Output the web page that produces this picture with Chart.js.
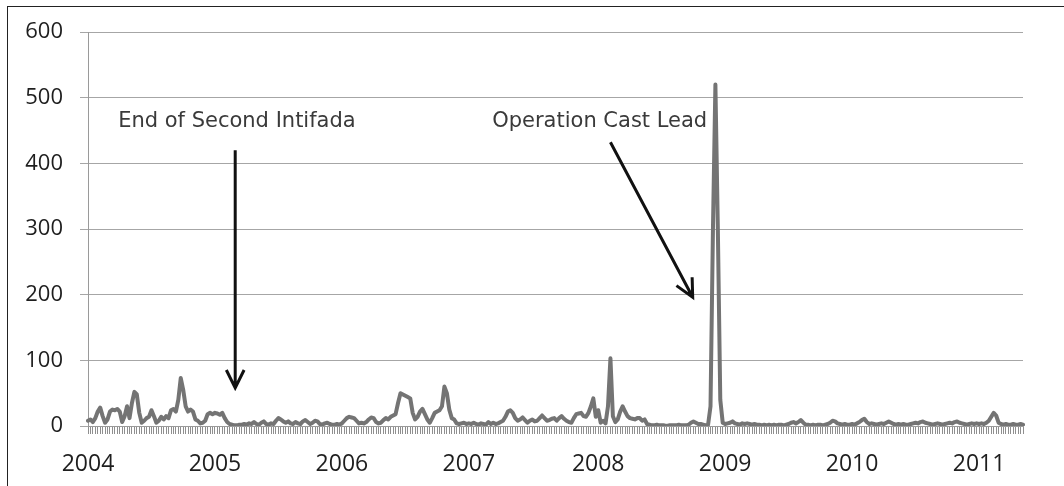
<!DOCTYPE html>
<html>
<head>
<meta charset="utf-8">
<script src="https://cdn.jsdelivr.net/npm/chart.js@4.4.1/dist/chart.umd.min.js"></script>
<style>
  html, body { margin: 0; padding: 0; background: #fff; overflow: hidden; }
  #frame { position: absolute; left: 7px; top: 6px; width: 1100px; height: 520px; border: 1px solid #222; }
  #chart { position: absolute; left: 0; top: 0; }
</style>
</head>
<body>
<div id="frame"></div>
<canvas id="chart" width="1064" height="486"></canvas>
<script>
Chart.defaults.devicePixelRatio = 1;
Chart.defaults.responsive = false;
Chart.defaults.maintainAspectRatio = false;

// weekly counts, one array per year
const yearLabels = ["2004", "2005", "2006", "2007", "2008", "2009", "2010", "2011"];
const weeks2004 = [8,10,6,12,22,28,15,5,10,22,25,24,26,22,6,15,30,12,35,52,48,20,5,8,12,14,24,15,5,8,14,10,15,12,24,26,22,40,73,55,30,22,25,22,10,8,4,5,8,18,20,18];
const weeks2005 = [20,19,17,20,12,6,3,2,1,1,2,2,3,2,4,3,6,3,2,5,7,3,2,4,3,8,12,10,7,5,7,4,3,6,4,3,7,9,6,3,5,8,7,3,2,4,5,3,2,2,3,2];
const weeks2006 = [4,8,12,14,13,12,8,4,5,4,6,10,13,12,6,4,5,9,12,10,14,16,18,35,50,48,46,44,42,20,10,14,22,26,18,10,5,12,20,22,24,30,60,50,25,12,10,4,3,4,5,3];
const weeks2007 = [4,3,5,3,2,4,3,2,6,3,5,3,4,6,8,14,22,24,20,12,8,10,13,9,5,8,10,7,8,12,16,12,8,9,11,12,8,12,15,11,8,6,5,12,18,19,20,15,14,20,30,42,14];
const weeks2008 = [24,5,8,4,30,103,15,6,10,22,30,22,15,12,11,10,12,12,8,10,3,2,1,1,2,1,1,1,0,1,1,1,1,2,1,1,1,2,5,7,5,3,3,2,1,2,30,300,520,300,40,5];
const weeks2009 = [3,4,5,7,4,3,2,4,3,4,3,2,3,2,2,1,2,1,2,1,2,1,2,2,1,2,3,5,6,4,6,9,5,2,2,1,2,1,2,2,1,2,3,5,8,7,4,3,2,3,2,2];
const weeks2010 = [3,2,4,6,9,11,6,3,4,3,2,3,4,3,5,7,5,3,2,3,2,3,2,2,3,4,5,4,6,7,5,4,3,2,3,4,3,2,3,4,5,4,6,7,5,4,3,2,3,4,3,4];
const weeks2011 = [3,4,3,5,8,14,20,16,5,3,2,3,2,2,3,2,2,3,2];

const yTicks = [0, 100, 200, 300, 400, 500, 600];

// annotations: [week index, value]
const notes = [
  { text: "End of Second Intifada", textAt: [61, 463], from: [60.3, 420], to: [60.3, 58] },
  { text: "Operation Cast Lead", textAt: [209.6, 463], from: [214, 432], to: [247.7, 196] },
];

const byYear = [weeks2004, weeks2005, weeks2006, weeks2007, weeks2008, weeks2009, weeks2010, weeks2011];
const labels = [];
const values = [];
byYear.forEach((arr, yi) => {
  arr.forEach((v, i) => {
    labels.push(i === 0 ? yearLabels[yi] : "");
    values.push(v);
  });
});

function drawArrow(ctx, x1, y1, x2, y2) {
  const ang = Math.atan2(y2 - y1, x2 - x1);
  const len = 20;
  const spread = 0.46;
  ctx.beginPath();
  ctx.moveTo(x1, y1);
  ctx.lineTo(x2, y2);
  ctx.moveTo(x2 - len * Math.cos(ang - spread), y2 - len * Math.sin(ang - spread));
  ctx.lineTo(x2, y2);
  ctx.lineTo(x2 - len * Math.cos(ang + spread), y2 - len * Math.sin(ang + spread));
  ctx.stroke();
}

const notesPlugin = {
  id: "notes",
  afterDatasetsDraw(chart) {
    const { ctx } = chart;
    const x = chart.scales.x;
    const y = chart.scales.y;
    ctx.save();
    ctx.font = "21px 'DejaVu Sans'";
    ctx.fillStyle = "#3a3a3a";
    ctx.textAlign = "center";
    ctx.textBaseline = "middle";
    ctx.strokeStyle = "#111";
    ctx.lineWidth = 3;
    ctx.lineCap = "butt";
    ctx.lineJoin = "miter";
    notes.forEach((n) => {
      ctx.fillText(n.text, x.getPixelForValue(n.textAt[0]), y.getPixelForValue(n.textAt[1]));
      drawArrow(
        ctx,
        x.getPixelForValue(n.from[0]), y.getPixelForValue(n.from[1]),
        x.getPixelForValue(n.to[0]), y.getPixelForValue(n.to[1])
      );
    });
    ctx.restore();
  },
};

new Chart(document.getElementById("chart").getContext("2d"), {
  type: "line",
  data: {
    labels,
    datasets: [{
      data: values,
      borderColor: "#747474",
      borderWidth: 4,
      pointRadius: 0,
      tension: 0,
      borderJoinStyle: "round",
      borderCapStyle: "round",
      fill: false,
    }],
  },
  options: {
    animation: false,
    layout: { padding: { left: 0, right: 41, top: 32, bottom: 0 } },
    plugins: {
      legend: { display: false },
      tooltip: { enabled: false },
    },
    scales: {
      x: {
        grid: { drawOnChartArea: false, drawTicks: true, tickLength: 8, color: "#8f8f8f" },
        border: { color: "#9a9a9a" },
        ticks: {
          autoSkip: false,
          maxRotation: 0,
          minRotation: 0,
          padding: 17,
          color: "#1e1e1e",
          font: { family: "'Open Sans'", size: 23 },
        },
        afterFit(scale) { scale.height = 60; },
      },
      y: {
        min: 0,
        max: 600,
        afterBuildTicks(scale) { scale.ticks = yTicks.map((v) => ({ value: v })); },
        grid: { color: "#a6a6a6", tickLength: 8 },
        border: { color: "#9a9a9a" },
        ticks: {
          padding: 17,
          color: "#1e1e1e",
          font: { family: "'Open Sans'", size: 22 },
        },
        afterFit(scale) { scale.width = 88; },
      },
    },
  },
  plugins: [notesPlugin],
});
</script>
</body>
</html>
